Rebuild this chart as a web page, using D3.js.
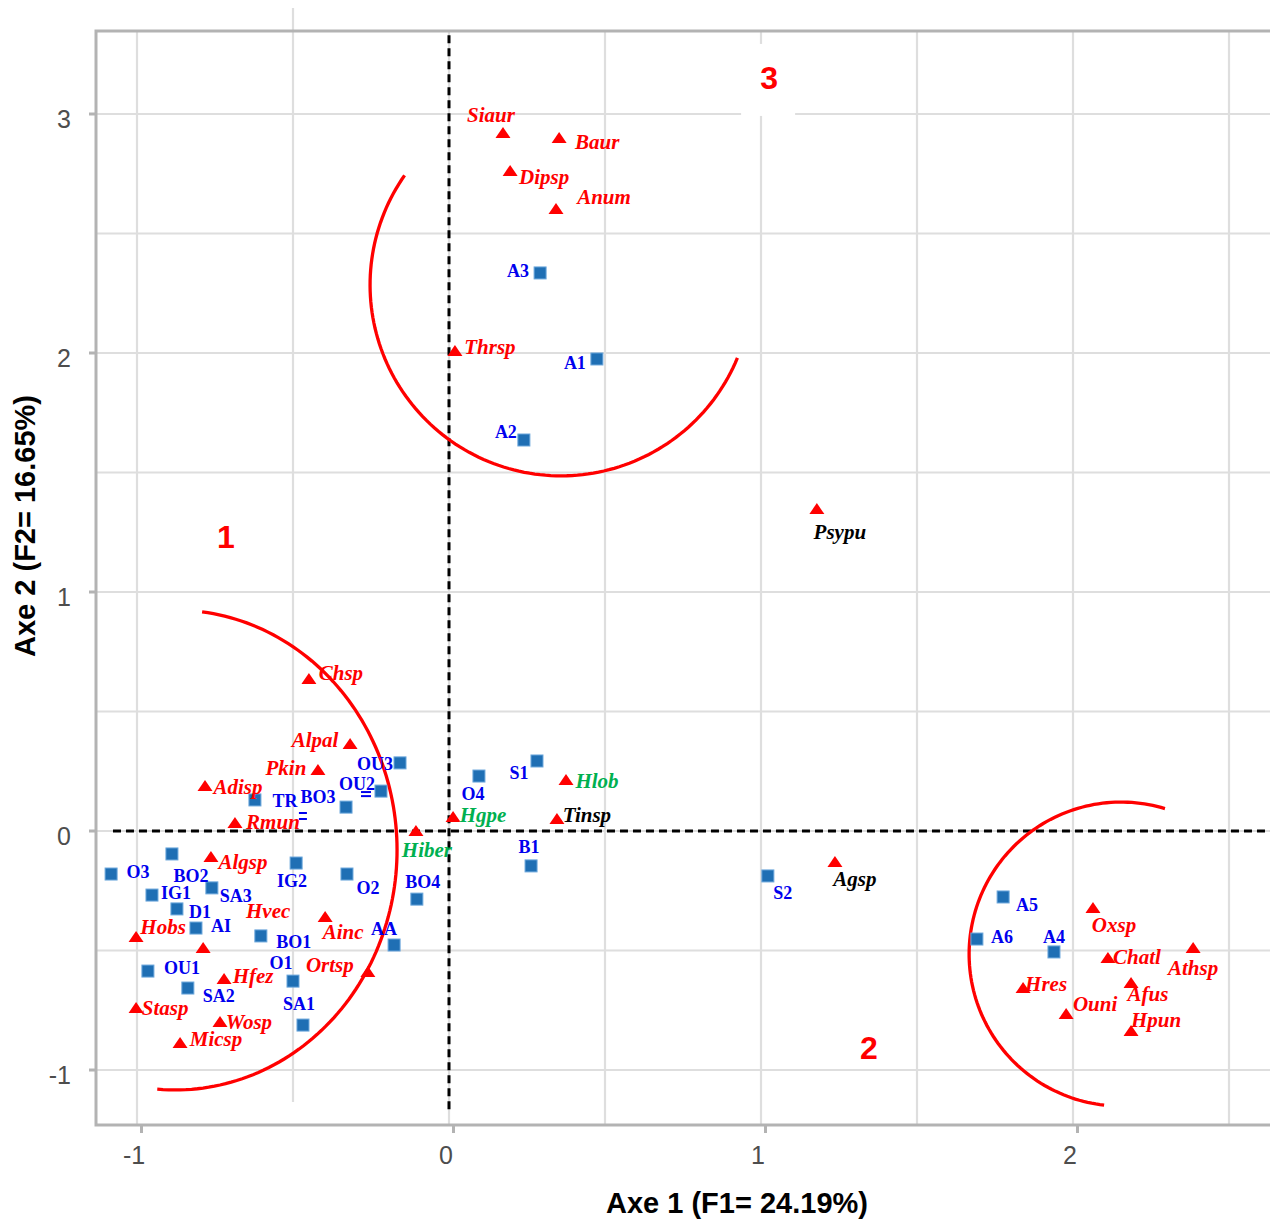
<!DOCTYPE html>
<html><head><meta charset="utf-8">
<script src="https://cdn.jsdelivr.net/npm/d3@7"></script>
<style>body{margin:0;background:#fff;} svg{display:block;}</style>
</head><body>
<svg id="chart" width="1270" height="1222"></svg>
<script>
// ---------- DATA ----------
const siteNames = ["O3","BO2","IG1","SA3","D1","AI","IG2","O2","BO1","AA","BO4","OU1","SA2","O1","SA1","TR","BO3","OU2","OU3","O4","S1","B1","A3","A1","A2","S2","A5","A6","A4"];
const siteX = [-1.083,-0.888,-0.952,-0.760,-0.872,-0.811,-0.490,-0.327,-0.603,-0.176,-0.103,-0.965,-0.837,-0.500,-0.468,-0.622,-0.330,-0.218,-0.157,0.096,0.282,0.263,0.292,0.474,0.240,1.022,1.776,1.692,1.939];
const siteY = [-0.180,-0.096,-0.268,-0.238,-0.326,-0.406,-0.134,-0.180,-0.439,-0.477,-0.285,-0.586,-0.657,-0.628,-0.812,0.130,0.100,0.167,0.285,0.230,0.293,-0.146,2.335,1.975,1.636,-0.188,-0.276,-0.452,-0.506];

const speciesNames = ["Algsp","Hobs","Hvec","Ainc","Ortsp","Hfez","Stasp","Wosp","Micsp","Chsp","Alpal","Pkin","Adisp","Rmun","Hiber","Hgpe","Hlob","Tinsp","Siaur","Baur","Dipsp","Anum","Thrsp","Psypu","Agsp","Oxsp","Chatl","Athsp","Hres","Afus","Ouni","Hpun"];
const speciesX = [-0.763,-1.003,-0.788,-0.397,-0.260,-0.721,-1.003,-0.734,-0.862,-0.449,-0.317,-0.420,-0.782,-0.686,-0.106,0.013,0.375,0.346,0.173,0.353,0.196,0.343,0.019,1.179,1.237,2.064,2.112,2.385,1.840,2.186,1.978,2.186];
const speciesY = [-0.109,-0.444,-0.490,-0.360,-0.590,-0.619,-0.741,-0.799,-0.887,0.636,0.364,0.255,0.188,0.033,0.000,0.059,0.213,0.050,2.921,2.900,2.762,2.603,2.008,1.347,-0.130,-0.322,-0.531,-0.490,-0.657,-0.636,-0.766,-0.837];
const speciesGroup = ["r","r","r","r","r","r","r","r","r","r","r","r","r","r","g","g","g","k","r","r","r","r","r","k","k","r","r","r","r","r","r","r"];

const xTicks = [-1, 0, 1, 2];
const yTicks = [-1, 0, 1, 2, 3];
const xTickLabels = ["-1", "0", "1", "2"];
const yTickLabels = ["-1", "0", "1", "2", "3"];
const xGrid = [-1, -0.5, 0, 0.5, 1, 1.5, 2, 2.5];
const yGrid = [-1, -0.5, 0, 0.5, 1, 1.5, 2, 2.5, 3];

const groupLabels = ["1", "2", "3"];
const groupLabelX = [-0.715, 1.346, 1.026];
const groupLabelY = [1.230, -0.908, 3.151];

// cluster arcs (ellipse centre, radii in data units, angle span in degrees)
const arcCX = [0.359, -0.878, 2.154];
const arcCY = [2.285, -0.0795, -0.515];
const arcRX = [0.612, 0.7115, 0.487];
const arcRY = [0.799, 1.004, 0.636];
const arcT0 = [215, -83, -73.2];
const arcT1 = [22.5, 94.6, -263.6];

const xTitle = "Axe 1 (F1= 24.19%)";
const yTitle = "Axe 2 (F2= 16.65%)";

// ---------- LAYOUT ----------
const siteLabelOffset = {
  O3:[27,-2], BO2:[19,22], IG1:[24,-2], SA3:[24,8], D1:[23,3], AI:[25,-2], IG2:[-4,18], O2:[21,14],
  BO1:[33,6], AA:[-10,-16], BO4:[6,-17], OU1:[34,-3], SA2:[31,8], O1:[-12,-18], SA1:[-4,-21],
  TR:[30,1], BO3:[-28,-10], OU2:[-24,-7], OU3:[-25,1], O4:[-6,18], S1:[-18,12], B1:[-2,-19],
  A3:[-22,-2], A1:[-22,4], A2:[-18,-8], S2:[15,17], A5:[24,8], A6:[25,-2], A4:[0,-15]
};
const speciesLabelOffset = {
  Algsp:[32,5], Hobs:[27,-10], Hvec:[65,-37], Ainc:[18,15], Ortsp:[-38,-7], Hfez:[29,-3], Stasp:[29,0],
  Wosp:[29,0], Micsp:[36,-4], Chsp:[32,-6], Alpal:[-35,-4], Pkin:[-32,-2], Adisp:[33,1], Rmun:[38,-1],
  Hiber:[11,19], Hgpe:[30,-2], Hlob:[31,1], Tinsp:[30,-4], Siaur:[-12,-18], Baur:[38,4], Dipsp:[34,6],
  Anum:[48,-12], Thrsp:[35,-4], Psypu:[23,23], Agsp:[20,17], Oxsp:[21,17], Chatl:[29,-1], Athsp:[0,20],
  Hres:[23,-4], Afus:[17,11], Ouni:[29,-10], Hpun:[25,-11]
};
const groupColor = {r:"#ff0000", g:"#00b050", k:"#000000"};

const svg = d3.select("#chart");
const x = d3.scaleLinear().domain([-1.1314, 2.6314]).range([96, 1270]);
const y = d3.scaleLinear().domain([-1.2301, 3.3473]).range([1125, 31]);
const [x0, x1] = x.range();
const [yB, yT] = y.range();

// grid
const grid = svg.append("g").attr("stroke", "#dedede").attr("stroke-width", 2.2);
grid.selectAll("line.v").data(xGrid).join("line").attr("class","v")
  .attr("x1", d => x(d)).attr("x2", d => x(d))
  .attr("y1", d => d === -0.5 ? 8 : yT).attr("y2", d => d === -0.5 ? 1102 : yB);
grid.selectAll("line.h").data(yGrid).join("line").attr("class","h")
  .attr("y1", d => y(d)).attr("y2", d => y(d)).attr("x1", x0).attr("x2", x1);

// white boxes behind group labels
const gl = groupLabels.map((t, i) => ({t, x: groupLabelX[i], y: groupLabelY[i]}));
svg.append("g").selectAll("rect").data(gl).join("rect")
  .attr("x", d => x(d.x) - 28).attr("y", d => y(d.y) - 34)
  .attr("width", 54).attr("height", d => d.t === "3" ? 72 : 50)
  .attr("fill", "#fff");

// panel border (left + top + bottom)
const border = svg.append("g").attr("stroke", "#b3b3b3").attr("stroke-width", 3).attr("fill", "none");
border.append("path").attr("d", `M${x1},${yT}H${x0}V${yB}H${x1}`);

// axis ticks and labels
const axisFont = "'Liberation Sans', Arial, sans-serif";
const xt = svg.append("g");
xt.selectAll("line").data(xTicks).join("line")
  .attr("x1", d => x(d) + 4.5).attr("x2", d => x(d) + 4.5)
  .attr("y1", yB).attr("y2", yB + 8).attr("stroke", "#b3b3b3").attr("stroke-width", 3);
xt.selectAll("text").data(xTicks).join("text")
  .attr("x", d => x(d) - 3).attr("y", 1164)
  .attr("text-anchor", "middle").attr("font-family", axisFont).attr("font-size", 25)
  .attr("fill", "#4d4d4d").text((d, i) => xTickLabels[i]);
const yt = svg.append("g");
yt.selectAll("line").data(yTicks).join("line")
  .attr("x1", x0 - 7).attr("x2", x0)
  .attr("y1", d => y(d)).attr("y2", d => y(d)).attr("stroke", "#b3b3b3").attr("stroke-width", 3);
yt.selectAll("text").data(yTicks).join("text")
  .attr("x", 71).attr("y", d => y(d) + 14)
  .attr("text-anchor", "end").attr("font-family", axisFont).attr("font-size", 25)
  .attr("fill", "#4d4d4d").text((d, i) => yTickLabels[i]);

// axis titles
svg.append("text").attr("x", 737).attr("y", 1213).attr("text-anchor", "middle")
  .attr("font-family", axisFont).attr("font-weight", "bold").attr("font-size", 29)
  .attr("fill", "#000").text(xTitle);
svg.append("text").attr("transform", "translate(35,526) rotate(-90)").attr("text-anchor", "middle")
  .attr("font-family", axisFont).attr("font-weight", "bold").attr("font-size", 29)
  .attr("fill", "#000").text(yTitle);

// dashed origin lines
const dash = svg.append("g").attr("stroke", "#000").attr("stroke-width", 3).attr("stroke-dasharray", "8,5");
dash.append("line").attr("x1", x(0)).attr("x2", x(0)).attr("y1", y(3.33)).attr("y2", y(-1.167));
dash.append("line").attr("x1", x(-1.077)).attr("x2", x1).attr("y1", y(0)).attr("y2", y(0));

// cluster arcs
const arcs = arcCX.map((cx, i) => ({cx, cy: arcCY[i], rx: arcRX[i], ry: arcRY[i], t0: arcT0[i], t1: arcT1[i]}));
const lineGen = d3.line().curve(d3.curveLinear);
svg.append("g").selectAll("path").data(arcs).join("path")
  .attr("fill", "none").attr("stroke", "#ff0000").attr("stroke-width", 3.3)
  .attr("d", a => {
    const n = 120;
    const pts = d3.range(n + 1).map(k => {
      const t = (a.t0 + (a.t1 - a.t0) * k / n) * Math.PI / 180;
      return [x(a.cx + a.rx * Math.cos(t)), y(a.cy - a.ry * Math.sin(t))];
    });
    return lineGen(pts);
  });

// group labels
svg.append("g").selectAll("text").data(gl).join("text")
  .attr("x", d => x(d.x)).attr("y", d => y(d.y) + 11)
  .attr("text-anchor", "middle").attr("font-family", axisFont).attr("font-weight", "bold")
  .attr("font-size", 32).attr("fill", "#ff0000").text(d => d.t);

// small underline marks present in the original
const marks = svg.append("g").attr("stroke", "#0000ee").attr("stroke-width", 2);
[[-0.481,0.0753],[-0.481,0.0502]].forEach(p => marks.append("line")
  .attr("x1", x(p[0])).attr("x2", x(p[0]) + 8).attr("y1", y(p[1])).attr("y2", y(p[1])));
[[-0.282,0.163],[-0.282,0.146]].forEach(p => marks.append("line")
  .attr("x1", x(p[0])).attr("x2", x(p[0]) + 10).attr("y1", y(p[1])).attr("y2", y(p[1])));

// markers
const sites = siteNames.map((n, i) => ({n, x: siteX[i], y: siteY[i]}));
const species = speciesNames.map((n, i) => ({n, x: speciesX[i], y: speciesY[i], g: speciesGroup[i]}));

svg.append("g").selectAll("rect").data(sites).join("rect")
  .attr("x", d => x(d.x) - 6).attr("y", d => y(d.y) - 6)
  .attr("width", 12).attr("height", 12)
  .attr("fill", "#1f6fb4").attr("stroke", "#6aa6db").attr("stroke-width", 1);

svg.append("g").selectAll("path").data(species).join("path")
  .attr("transform", d => `translate(${x(d.x)},${y(d.y)})`)
  .attr("d", "M0,-6L7.5,5L-7.5,5Z").attr("fill", "#ff0000");

// labels
const serif = "'Liberation Serif', 'Times New Roman', serif";
svg.append("g").selectAll("text").data(sites).join("text")
  .attr("x", d => x(d.x) + siteLabelOffset[d.n][0])
  .attr("y", d => y(d.y) + siteLabelOffset[d.n][1])
  .attr("dy", "0.35em").attr("text-anchor", "middle")
  .attr("font-family", serif).attr("font-weight", "bold").attr("font-size", 18)
  .attr("fill", "#0000ee").text(d => d.n);

svg.append("g").selectAll("text").data(species).join("text")
  .attr("x", d => x(d.x) + speciesLabelOffset[d.n][0])
  .attr("y", d => y(d.y) + speciesLabelOffset[d.n][1])
  .attr("dy", "0.35em").attr("text-anchor", "middle")
  .attr("font-family", serif).attr("font-weight", "bold").attr("font-style", "italic")
  .attr("font-size", 21).attr("fill", d => groupColor[d.g]).text(d => d.n);
</script>
</body></html>
